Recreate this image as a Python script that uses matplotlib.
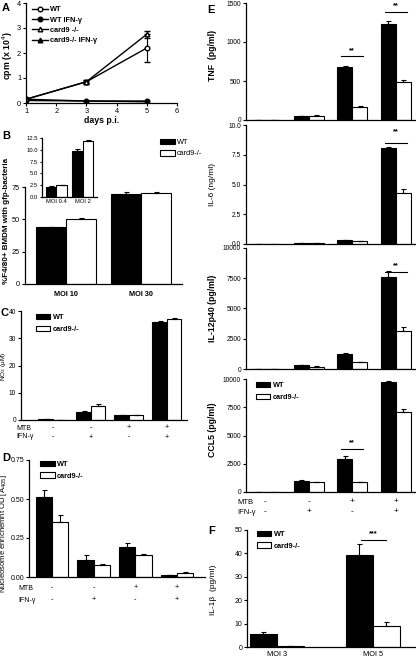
import numpy as np
import matplotlib
matplotlib.use("Agg")
from matplotlib import pyplot as plt

plt.rcParams['font.family'] = ['Liberation Sans', 'DejaVu Sans']
plt.rcParams['font.size'] = 5.3
plt.rcParams['axes.linewidth'] = 0.9
plt.rcParams['xtick.major.width'] = 0.8
plt.rcParams['ytick.major.width'] = 0.8
plt.rcParams['xtick.major.size'] = 2
plt.rcParams['ytick.major.size'] = 2
plt.rcParams['xtick.major.pad'] = 1.5
plt.rcParams['ytick.major.pad'] = 1.5

W, H = 416, 658

# ---- data ----
days = [1, 3, 5]
a_wt = [0.15, 0.85, 2.2]
a_wt_err = [0.03, 0.08, 0.55]
a_wt_ifn = [0.15, 0.08, 0.08]
a_ko = [0.15, 0.85, 2.75]
a_ko_err = [0.03, 0.06, 0.15]
a_ko_ifn = [0.1, 0.08, 0.05]

b_moi = ["MOI 10", "MOI 30"]
b_wt = [44, 69.5]
b_wt_err = [0, 1.5]
b_ko = [50.5, 70.5]
b_ko_err = [0.8, 0.5]
bi_moi = ["MOI 0.4", "MOI 2"]
bi_wt = [2.2, 9.7]
bi_wt_err = [0.05, 0.4]
bi_ko = [2.5, 11.8]
bi_ko_err = [0.08, 0.2]

mtb = ["-", "-", "+", "+"]
ifn = ["-", "+", "-", "+"]

c_wt = [0.3, 3.0, 1.7, 36.0]
c_wt_err = [0.05, 0.4, 0.2, 0.5]
c_ko = [0.0, 5.2, 1.7, 37.0]
c_ko_err = [0.0, 0.6, 0.1, 0.4]

d_wt = [0.51, 0.11, 0.19, 0.01]
d_wt_err = [0.05, 0.03, 0.03, 0.003]
d_ko = [0.355, 0.08, 0.14, 0.025]
d_ko_err = [0.04, 0.003, 0.01, 0.01]

tnf_wt = [0, 45, 680, 1230]
tnf_wt_err = [0, 3, 15, 40]
tnf_ko = [0, 55, 165, 490]
tnf_ko_err = [0, 4, 15, 25]

il6_wt = [0, 0.05, 0.3, 8.1]
il6_wt_err = [0, 0, 0.02, 0.05]
il6_ko = [0, 0.05, 0.25, 4.3]
il6_ko_err = [0, 0, 0.02, 0.35]

il12_wt = [0, 300, 1250, 7600]
il12_wt_err = [0, 20, 40, 500]
il12_ko = [0, 200, 550, 3150]
il12_ko_err = [0, 15, 30, 300]

ccl5_wt = [0, 1000, 2950, 9700]
ccl5_wt_err = [0, 50, 250, 80]
ccl5_ko = [0, 850, 850, 7100]
ccl5_ko_err = [0, 30, 30, 250]

f_moi = ["MOI 3", "MOI 5"]
f_wt = [5.5, 39.5]
f_wt_err = [0.8, 4.5]
f_ko = [0.3, 8.8]
f_ko_err = [0.1, 2.0]

fig = plt.figure(figsize=(W / 100, H / 100), dpi=100)


def px_axes(l, t, r, b):
    ax = fig.add_axes([l / W, 1 - b / H, (r - l) / W, (b - t) / H])
    ax.spines['top'].set_visible(False)
    ax.spines['right'].set_visible(False)
    return ax


def bars(ax, x, wt, wt_err, ko, ko_err, w):
    x = np.asarray(x, dtype=float)
    ek = dict(capsize=1.8, elinewidth=0.8, capthick=0.8, ecolor='black')
    ax.bar(x - w / 2, wt, w, color='black', edgecolor='black', linewidth=0.8,
           yerr=[np.zeros(len(wt)), wt_err], error_kw=ek, label='WT')
    ax.bar(x + w / 2, ko, w, color='white', edgecolor='black', linewidth=0.8,
           yerr=[np.zeros(len(ko)), ko_err], error_kw=ek, label='card9-/-')


def bar_legend(ax, anchor, bold=True):
    leg = ax.legend(loc='upper left', frameon=False, fontsize=5.3, handlelength=2.0,
                    handleheight=0.75, labelspacing=0.6, handletextpad=0.3,
                    borderaxespad=0, bbox_to_anchor=anchor)
    if bold:
        for t in leg.get_texts():
            t.set_fontweight('bold')
    return leg


def treat_rows(ax, bot_px, h_px, y1, y2, lab_x, size=5.3, lab_size=5):
    trans = ax.get_xaxis_transform()
    for xi, m, i in zip(range(4), mtb, ifn):
        ax.text(xi, -(y1 - bot_px) / h_px, m, ha='center', va='center', transform=trans, fontsize=size)
        ax.text(xi, -(y2 - bot_px) / h_px, i, ha='center', va='center', transform=trans, fontsize=size)
    fig.text(lab_x / W, 1 - y1 / H, "MTB", ha='left', va='center', fontsize=lab_size)
    fig.text(lab_x / W, 1 - y2 / H, "IFN-γ", ha='left', va='center', fontsize=lab_size)


def sig(ax, x0, x1, y, txt, dy):
    ax.plot([x0, x1], [y, y], color='black', lw=0.8)
    ax.text((x0 + x1) / 2, y + dy, txt, ha='center', va='center', fontsize=5.3, fontweight='bold')


def panel_letter(x, y, s):
    fig.text(x / W, 1 - y / H, s, fontsize=8, fontweight='bold', ha='left', va='center')


def ylab(x, y, s, size=6, bold=False):
    fig.text(x / W, 1 - y / H, s, rotation=90, ha='center', va='center', fontsize=size,
             fontweight='bold' if bold else 'normal')


# ---- A ----
axA = px_axes(26, 3, 177, 103)
h1 = axA.errorbar(days, a_wt, yerr=a_wt_err, color='black', marker='o', mfc='white', ms=3.3,
                  lw=1.0, capsize=2, elinewidth=0.8)
h2, = axA.plot(days, a_wt_ifn, color='black', marker='o', mfc='black', ms=3.3, lw=1.0)
h3 = axA.errorbar(days, a_ko, yerr=a_ko_err, color='black', marker='^', mfc='white', ms=3.3,
                  lw=1.0, capsize=2, elinewidth=0.8)
h4, = axA.plot(days, a_ko_ifn, color='black', marker='^', mfc='black', ms=3.3, lw=1.0)
axA.set_xlim(1, 6)
axA.set_ylim(0, 4)
axA.set_xticks([1, 2, 3, 4, 5, 6])
axA.set_yticks([0, 1, 2, 3, 4])
axA.set_xlabel("days p.i.", fontsize=6.3, fontweight='bold', labelpad=1)
ylab(8, 55, "cpm (x 10$^4$)", size=6.3, bold=True)
leg = axA.legend([h1[0], h2, h3[0], h4], ["WT", "WT IFN-γ", "card9 -/-", "card9-/- IFN-γ"],
                 loc='upper left', frameon=False, fontsize=5.3, handlelength=2.2,
                 borderaxespad=0, labelspacing=0.45, handletextpad=0.3, bbox_to_anchor=(0.02, 1.0))
for t in leg.get_texts():
    t.set_fontweight('bold')
panel_letter(2, 8, "A")

# ---- B ----
axB = px_axes(25, 187, 182, 284)
bars(axB, [0, 1], b_wt, b_wt_err, b_ko, b_ko_err, 0.4)
axB.set_xlim(-0.55, 1.55)
axB.set_ylim(0, 75)
axB.set_yticks([0, 25, 50, 75])
axB.set_xticks([0, 1], labels=b_moi, fontweight='bold', fontsize=5.3)
axB.tick_params(axis='x', length=0, pad=5)
bar_legend(axB, (0.84, 1.53), bold=False)
ylab(7, 221, "%F4/80+ BMDM with gfp-bacteria", size=5.8, bold=True)
panel_letter(2, 136, "B")

axBi = px_axes(42, 138, 97, 197)
bars(axBi, [0, 1], bi_wt, bi_wt_err, bi_ko, bi_ko_err, 0.4)
axBi.set_xlim(-0.55, 1.55)
axBi.set_ylim(0, 12.5)
axBi.set_yticks([0, 2.5, 5, 7.5, 10, 12.5], labels=["0.0", "2.5", "5.0", "7.5", "10.0", "12.5"])
axBi.set_xticks([0, 1], labels=bi_moi)
axBi.tick_params(labelsize=4.2, length=1.5)
axBi.tick_params(axis='x', length=0)

# ---- C ----
axC = px_axes(21, 311, 187, 420)
bars(axC, range(4), c_wt, c_wt_err, c_ko, c_ko_err, 0.38)
axC.set_xlim(-0.84, 3.53)
axC.set_ylim(0, 40)
axC.set_yticks([0, 10, 20, 30, 40])
axC.set_xticks([])
axC.tick_params(axis='y', labelsize=4.8)
bar_legend(axC, (0.07, 1.0))
ylab(4, 366, "NO$_2$ (μM)", size=4.6)
treat_rows(axC, 420, 109, 428, 437, 16)
panel_letter(0.5, 313, "C")

# ---- D ----
axD = px_axes(29, 460, 205, 577)
bars(axD, range(4), d_wt, d_wt_err, d_ko, d_ko_err, 0.39)
axD.set_xlim(-0.55, 3.67)
axD.set_ylim(0, 0.75)
axD.set_yticks([0, 0.25, 0.5, 0.75], labels=["0.00", "0.25", "0.50", "0.75"])
axD.set_xticks([])
axD.tick_params(axis='y', labelsize=5)
bar_legend(axD, (0.045, 1.02))
ylab(4, 533, "Nucleosome enrichemnt OD [A$_{405}$]", size=5.5)
treat_rows(axD, 577, 117, 588, 600, 18)
panel_letter(2, 458, "D")

# ---- E ----
e_specs = [
    (3, 120, tnf_wt, tnf_wt_err, tnf_ko, tnf_ko_err, 1500, [0, 500, 1000, 1500], None,
     "TNF  (pg/ml)", True, 55),
    (125, 244, il6_wt, il6_wt_err, il6_ko, il6_ko_err, 10, [0, 2.5, 5, 7.5, 10],
     ["0.0", "2.5", "5.0", "7.5", "10.0"], "IL-6 (ng/ml)", False, 185),
    (248, 369, il12_wt, il12_wt_err, il12_ko, il12_ko_err, 10000, [0, 2500, 5000, 7500, 10000], None,
     "IL-12p40 (pg/ml)", True, 308),
    (379, 492, ccl5_wt, ccl5_wt_err, ccl5_ko, ccl5_ko_err, 10000, [0, 2500, 5000, 7500, 10000], None,
     "CCL5 (pg/ml)", True, 430),
]
axesE = []
for top, bot, wt, we, ko, ke, ymax, ticks, tl, lab, bold, ly in e_specs:
    ax = px_axes(246, top, 416, bot)
    bars(ax, range(4), wt, we, ko, ke, 0.345)
    ax.set_xlim(-0.44, 3.46)
    ax.set_ylim(0, ymax)
    if tl is None:
        ax.set_yticks(ticks)
    else:
        ax.set_yticks(ticks, labels=tl)
    ax.set_xticks([])
    ax.tick_params(axis='y', labelsize=4.8)
    ylab(213, ly, lab, size=6.3 if bold else 6, bold=bold)
    axesE.append(ax)

axT, axI6, axI12, axCC = axesE
sig(axT, 1.75, 2.25, 820, "**", 70)
sig(axT, 2.75, 3.25, 1390, "**", 70)
sig(axI6, 2.75, 3.25, 8.5, "**", 0.9)
sig(axI12, 2.75, 3.25, 8000, "**", 550)
sig(axCC, 1.75, 2.25, 3800, "**", 550)
bar_legend(axCC, (0.04, 1.0))
treat_rows(axCC, 492, 113, 502, 512, 237, size=6, lab_size=5.5)
panel_letter(207, 10, "E")

# ---- F ----
axF = px_axes(247, 530, 415, 647)
bars(axF, [0, 1], f_wt, f_wt_err, f_ko, f_ko_err, 0.28)
axF.set_xlim(-0.31, 1.44)
axF.set_ylim(0, 50)
axF.set_yticks([0, 10, 20, 30, 40, 50])
axF.set_xticks([0, 1], labels=f_moi, fontsize=5.3)
axF.tick_params(axis='x', length=0, pad=3)
axF.tick_params(axis='y', labelsize=5)
ylab(214, 590, "IL-1β  (pg/ml)", size=6)
sig(axF, 1 - 0.12, 1 + 0.14, 45.7, "***", 2.5)
bar_legend(axF, (0.04, 1.02))
panel_letter(208, 531, "F")

fig.savefig("out.png", dpi=100)
